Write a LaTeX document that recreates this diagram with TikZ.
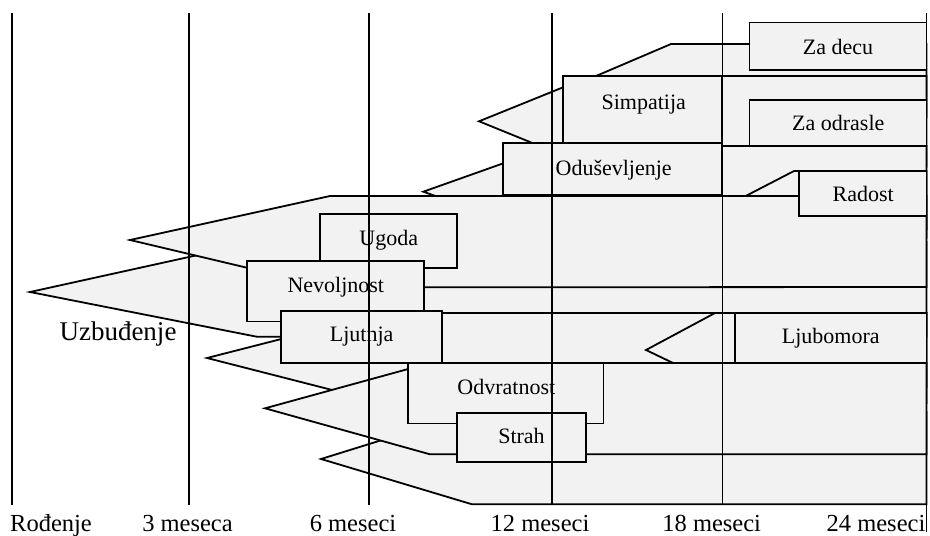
\documentclass[tikz,border=0pt]{standalone}
\usepackage{fontspec}
\setmainfont{Liberation Serif}
\definecolor{bandgrey}{HTML}{F2F2F2}
\tikzset{
  band/.style={draw=black, fill=bandgrey, line width=1.8pt},
  labelbox/.style={draw=black, fill=bandgrey, line width=1.8pt},
  agegrid/.style={draw=black, line width=1.8pt},
  boxtext/.style={font=\fontsize{22}{26}\selectfont, anchor=base, inner sep=0pt},
  bigtext/.style={font=\fontsize{27}{32}\selectfont, anchor=base, inner sep=0pt},
  agetext/.style={font=\fontsize{24.5}{29}\selectfont, anchor=base, inner sep=0pt},
}
\begin{document}
\begin{tikzpicture}[x=1pt, y=-1pt]
\useasboundingbox (0,0) rectangle (930,536);

% emotion bands, back to front
\draw[band] (585,80.7) -- (671,44) -- (926.5,44) -- (926.5,117) -- (671,117) -- cycle;          % za decu
\draw[band] (479,121.3) -- (591,76) -- (926.5,76) -- (926.5,166.8) -- (591,166.8) -- cycle;     % simpatija
\draw[band] (423.3,191.7) -- (552,146) -- (926.5,146) -- (926.5,237.7) -- (552,237.7) -- cycle; % odusevljenje
\draw[band] (738,200) -- (794,171) -- (926.5,171) -- (926.5,229) -- (794,229) -- cycle;         % radost
\draw[band] (30,292) -- (257,242) -- (926.5,242) -- (926.5,336.7) -- (256.7,336.7) -- cycle;    % uzbudjenje
\draw[band] (130,240) -- (330,196) -- (926.5,196) -- (926.5,287) -- (330,287.4) -- cycle;       % ugoda
\draw[band] (207,358) -- (383,313) -- (926.5,313) -- (926.5,403) -- (383,403) -- cycle;         % ljutnja
\draw[band] (646,350) -- (715,313) -- (926.5,313) -- (926.5,387) -- (723,387) -- cycle;         % ljubomora
\draw[band] (321,459) -- (472,412) -- (926.5,412) -- (926.5,504.3) -- (472,504.3) -- cycle;     % strah
\draw[band] (265,408.3) -- (430,363) -- (926.5,363) -- (926.5,454.3) -- (430,454.3) -- cycle;   % odvratnost

% label boxes with their names
\draw[labelbox] (749.5,22.5) rectangle (926.5,70);
\node[boxtext] (zadecu) at (838,54.3) {Za decu};
\draw[labelbox] (749.5,100) rectangle (926.5,146);
\node[boxtext] (zaodrasle) at (838.3,130.7) {Za odrasle};
\draw[labelbox] (563.3,76) rectangle (722.3,143.3);
\node[boxtext] (simpatija) at (643.7,109) {Simpatija};
\draw[labelbox] (502.7,143.3) rectangle (722.3,195);
\node[boxtext] (odusevljenje) at (613.7,175) {Oduševljenje};
\draw[labelbox] (799,171) rectangle (926.5,216);
\node[boxtext] (radost) at (863.2,201.7) {Radost};
\draw[labelbox] (320,214) rectangle (457.3,268.3);
\node[boxtext] (ugoda) at (388.7,245) {Ugoda};
\draw[labelbox] (246.7,260.7) rectangle (424,321.5);
\node[boxtext] (nevoljnost) at (335.8,292.3) {Nevoljnost};
\draw[labelbox] (280.7,310.7) rectangle (442.3,363);
\node[boxtext] (ljutnja) at (361.7,341) {Ljutnja};
\draw[labelbox] (735,313) rectangle (926.5,362.5);
\node[boxtext] (ljubomora) at (830.8,343.3) {Ljubomora};
\draw[labelbox] (408.3,363.3) rectangle (603.5,423.5);
\node[boxtext] (odvratnost) at (506.3,394.3) {Odvratnost};
\draw[labelbox] (457.3,412.7) rectangle (585.7,461.7);
\node[boxtext] (strah) at (521.5,443.3) {Strah};

\node[bigtext] (uzbudjenje) at (118,340.7) {Uzbuđenje};

% age grid
\draw[agegrid] (12.3,13) -- (12.3,505);
\draw[agegrid] (189,13) -- (189,505);
\draw[agegrid] (368.7,13) -- (368.7,505);
\draw[agegrid] (551.7,13) -- (551.7,505);
\draw[agegrid] (722.5,13) -- (722.5,505);
\draw[agegrid] (926.5,13) -- (926.5,532);

\node[agetext] (rodjenje) at (51,531.5) {Rođenje};
\node[agetext] (m3) at (187.5,531.5) {3 meseca};
\node[agetext] (m6) at (353,531.5) {6 meseci};
\node[agetext] (m12) at (540,531.5) {12 meseci};
\node[agetext] (m18) at (711.7,531.5) {18 meseci};
\node[agetext] (m24) at (876,531.5) {24 meseci};
\end{tikzpicture}
\end{document}
